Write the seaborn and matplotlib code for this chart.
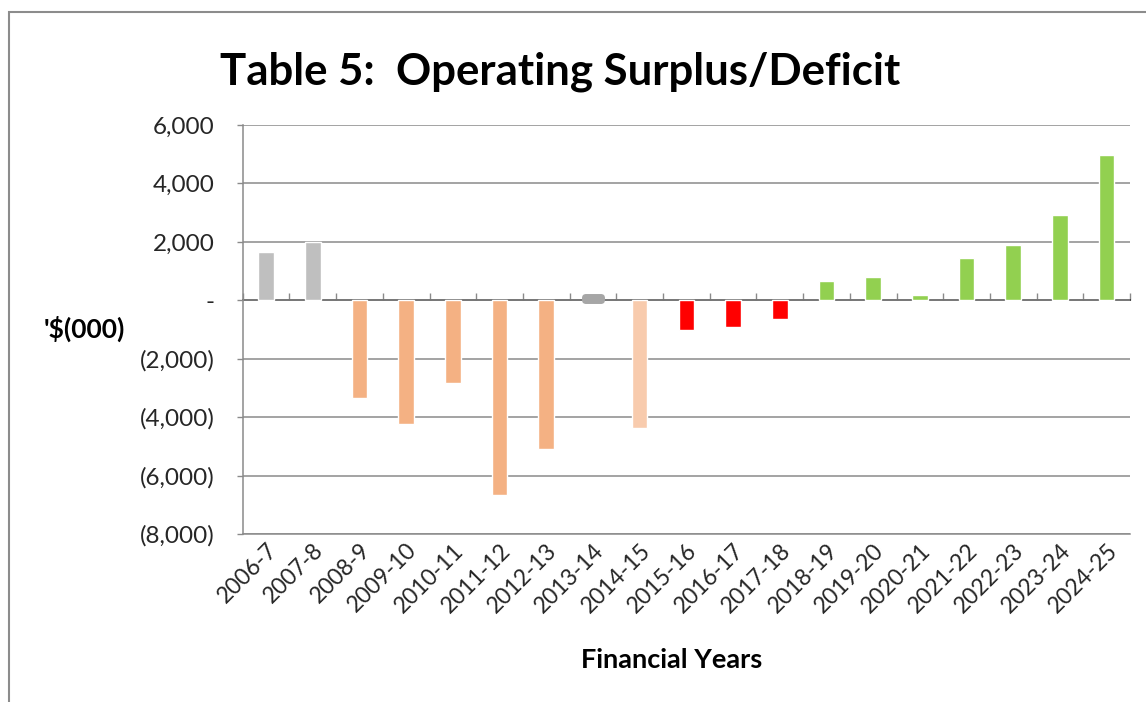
import matplotlib
matplotlib.use("Agg")
import matplotlib.pyplot as plt
import matplotlib.ticker as mticker
from matplotlib.patches import Rectangle
import pandas as pd
import seaborn as sns

# Operating result by financial year, in $'000
years = ["2006-7", "2007-8", "2008-9", "2009-10", "2010-11", "2011-12", "2012-13",
         "2013-14", "2014-15", "2015-16", "2016-17", "2017-18", "2018-19", "2019-20",
         "2020-21", "2021-22", "2022-23", "2023-24", "2024-25"]
surplus = [1650, 2000, -3350, -4250, -2820, -6670, -5080,
           110, -4360, -1030, -910, -640, 660, 790,
           180, 1450, 1880, 2920, 4970]
bar_colors = ["#BFBFBF", "#BFBFBF", "#F4B183", "#F4B183", "#F4B183", "#F4B183", "#F4B183",
              "#A6A6A6", "#F8CBAD", "#FF0000", "#FF0000", "#FF0000", "#92D050", "#92D050",
              "#92D050", "#92D050", "#92D050", "#92D050", "#92D050"]
y_ticks = [6000, 4000, 2000, 0, -2000, -4000, -6000, -8000]

sns.set_theme(style="white")
plt.rcParams["font.family"] = ["Lato", "DejaVu Sans"]

df = pd.DataFrame({"year": years, "value": surplus})

W, H = 1146, 702
fig = plt.figure(figsize=(W / 100, H / 100), dpi=100)
ax = fig.add_axes([242.7 / W, 1 - 534 / H, (1130 - 242.7) / W, (534 - 125) / H])

sns.barplot(data=df, x="year", y="value", hue="year", palette=bar_colors,
            legend=False, width=0.334, saturation=1, ax=ax, zorder=3)

# the near-zero year is drawn as a rounded pill
for patch, val in zip(ax.patches, surplus):
    if abs(val) < 150:
        patch.set_edgecolor(patch.get_facecolor())
        patch.set_linewidth(5)
        patch.set_joinstyle("round")

grid_col = "#8A8A8A"
ax.set_ylim(-8000, 6000)
ax.set_xlim(-0.5, len(years) - 0.5)
ax.set_yticks(y_ticks)
ax.yaxis.grid(True, color=grid_col, linewidth=1.1, zorder=0)
ax.set_axisbelow(True)


def money(v, _pos):
    if v == 0:
        return "-"
    if v < 0:
        return f"({abs(v):,.0f})"
    return f"{v:,.0f}"


ax.yaxis.set_major_formatter(mticker.FuncFormatter(money))
ax.tick_params(axis="y", length=4, width=1, color=grid_col, pad=16,
               labelsize=17.5, labelcolor="#262626", left=True)
ax.tick_params(axis="x", length=0, pad=4, labelsize=16.5, labelcolor="#262626")
for lbl in ax.get_xticklabels():
    lbl.set_rotation(45)
    lbl.set_ha("right")
    lbl.set_va("top")
    lbl.set_rotation_mode("anchor")

for side in ["top", "right"]:
    ax.spines[side].set_visible(False)
ax.spines["left"].set_color(grid_col)
ax.spines["bottom"].set_color(grid_col)
ax.spines["left"].set_linewidth(1.1)
ax.spines["bottom"].set_linewidth(1.1)
ax.set_xlabel("")
ax.set_ylabel("")

# category axis crossing at zero, with tick marks between categories
zero_frac = (0 - y_ticks[-1]) / (y_ticks[0] - y_ticks[-1])
cat_axis = ax.secondary_xaxis(zero_frac)
cat_axis.set_xticks([i - 0.5 for i in range(len(years) + 1)])
cat_axis.set_xticklabels([])
cat_axis.tick_params(axis="x", direction="out", length=5, width=1, color=grid_col)
cat_axis.spines["bottom"].set_color(grid_col)
cat_axis.spines["bottom"].set_linewidth(1.1)

fig.text(220 / W, 1 - 84 / H, "Table 5:  Operating Surplus/Deficit",
         fontsize=31.5, fontweight="bold", color="black", ha="left", va="baseline")
fig.text(84 / W, 1 - 329 / H, "'$(000)", fontsize=19, fontweight="bold",
         color="black", ha="center", va="center")
fig.text(672 / W, 1 - 660 / H, "Financial Years", fontsize=19.5, fontweight="bold",
         color="black", ha="center", va="center")

fig.patches.append(Rectangle((8.7 / W, -0.1), 1.2, 1.1 - 12 / H, transform=fig.transFigure,
                             fill=False, edgecolor="#8C8C8C", linewidth=1.5))

fig.savefig("out.png", dpi=100, facecolor="white")
